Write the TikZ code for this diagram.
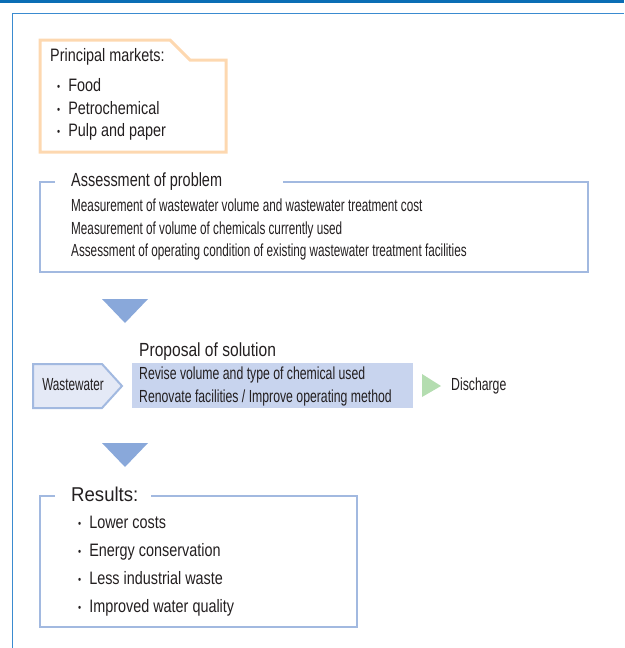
\documentclass[tikz,border=0pt]{standalone}
\usepackage{fontspec}
\setmainfont{Liberation Sans}[FakeStretch=0.67]
\newfontfamily\listfont{Liberation Sans}[FakeStretch=0.8]
\newfontfamily\propfont{Liberation Sans}[FakeStretch=0.7]
\newfontfamily\headfont{Liberation Sans}[FakeStretch=0.76]
\newfontfamily\propheadfont{Liberation Sans}[FakeStretch=0.82]
\newfontfamily\resheadfont{Liberation Sans}[FakeStretch=0.93]
\usetikzlibrary{positioning}
\definecolor{topblue}{HTML}{0A6EB5}
\definecolor{frameblue}{HTML}{3A8BD0}
\definecolor{orangeline}{HTML}{FDD8B0}
\definecolor{boxblue}{HTML}{A2B9E0}
\definecolor{arrowblue}{HTML}{89A8DA}
\definecolor{propfill}{HTML}{C8D4EE}
\definecolor{wwfill}{HTML}{E4E9F6}
\definecolor{greentri}{HTML}{B4DDB0}
\definecolor{textgray}{HTML}{231F20}
\newcommand{\bul}{\raisebox{1pt}{\fontsize{11}{11}\selectfont•}\hspace{8pt}}
\tikzset{
  txt/.style={anchor=west, inner sep=0pt, text=textgray, text height=12.5pt, text depth=3.5pt,
    font=\fontsize{17.5}{20}\selectfont},
  listtxt/.style={txt, font=\listfont\fontsize{18}{21}\selectfont},
  proptxt/.style={txt, font=\propfont\fontsize{17.5}{20}\selectfont},
  head/.style={anchor=west, inner sep=0pt, text=textgray, text height=14pt, text depth=4pt,
    font=\headfont\fontsize{19}{22}\selectfont},
  framebox/.style={draw=boxblue, line width=2.5pt},
}
\begin{document}
\begin{tikzpicture}[x=1pt,y=-1pt]
  \useasboundingbox (0,0) rectangle (624,648);
  % page frame
  \fill[topblue] (0,0) rectangle (624,2.5);
  \draw[frameblue, line width=1.2pt] (12.5,648) -- (12.5,13.5) -- (624,13.5);

  % principal markets
  \draw[orangeline, line width=3pt] (40,40) -- (170,40) -- (190,60) -- (226,60)
    -- (226,152) -- (40,152) -- cycle;
  \node (pm) [listtxt] at (50,57) {Principal markets:};
  \node (food) [listtxt] at (57,87) {\bul Food};
  \node (petro) [listtxt, below=22.5pt of food.west, anchor=west] {\bul Petrochemical};
  \node (pulp) [listtxt, below=22.5pt of petro.west, anchor=west] {\bul Pulp and paper};

  % assessment
  \draw[framebox] (55,182) -- (40,182) -- (40,272) -- (588,272) -- (588,182) -- (283,182);
  \node (assess) [head] at (71,181) {Assessment of problem};
  \node (meas1) [txt] at (71,207) {Measurement of wastewater volume and wastewater treatment cost};
  \node (meas2) [txt, below=22.5pt of meas1.west, anchor=west] {Measurement of volume of chemicals currently used};
  \node (meas3) [txt, below=22.5pt of meas2.west, anchor=west] {Assessment of operating condition of existing wastewater treatment facilities};

  \fill[arrowblue] (102,299) -- (148,299) -- (125,323) -- cycle;

  % proposal
  \node (prop) [head, font=\propheadfont\fontsize{19}{22}\selectfont] at (139,351) {Proposal of solution};
  \draw[draw=boxblue, fill=wwfill, line width=2pt] (33,364) -- (102,364) -- (122,386)
    -- (102,408) -- (33,408) -- cycle;
  \node (ww) [txt, anchor=center] at (73,386) {Wastewater};
  \fill[propfill] (132,363) rectangle (413,408);
  \node (revise) [proptxt] at (139,375) {Revise volume and type of chemical used};
  \node (renov) [proptxt, below=22.5pt of revise.west, anchor=west] {Renovate facilities / Improve operating method};
  \fill[greentri] (422,374) -- (441,386) -- (422,397) -- cycle;
  \node (dis) [proptxt] at (451,386) {Discharge};

  \fill[arrowblue] (102,443) -- (148,443) -- (125,467) -- cycle;

  % results
  \draw[framebox] (55,496) -- (40,496) -- (40,627) -- (357,627) -- (357,496) -- (151,496);
  \node (res) [head, font=\resheadfont\fontsize{20}{23}\selectfont] at (71,496) {Results:};
  \node (cost) [listtxt] at (78,524) {\bul Lower costs};
  \node (energy) [listtxt, below=28pt of cost.west, anchor=west] {\bul Energy conservation};
  \node (waste) [listtxt, below=28pt of energy.west, anchor=west] {\bul Less industrial waste};
  \node (quality) [listtxt, below=28pt of waste.west, anchor=west] {\bul Improved water quality};
\end{tikzpicture}
\end{document}
